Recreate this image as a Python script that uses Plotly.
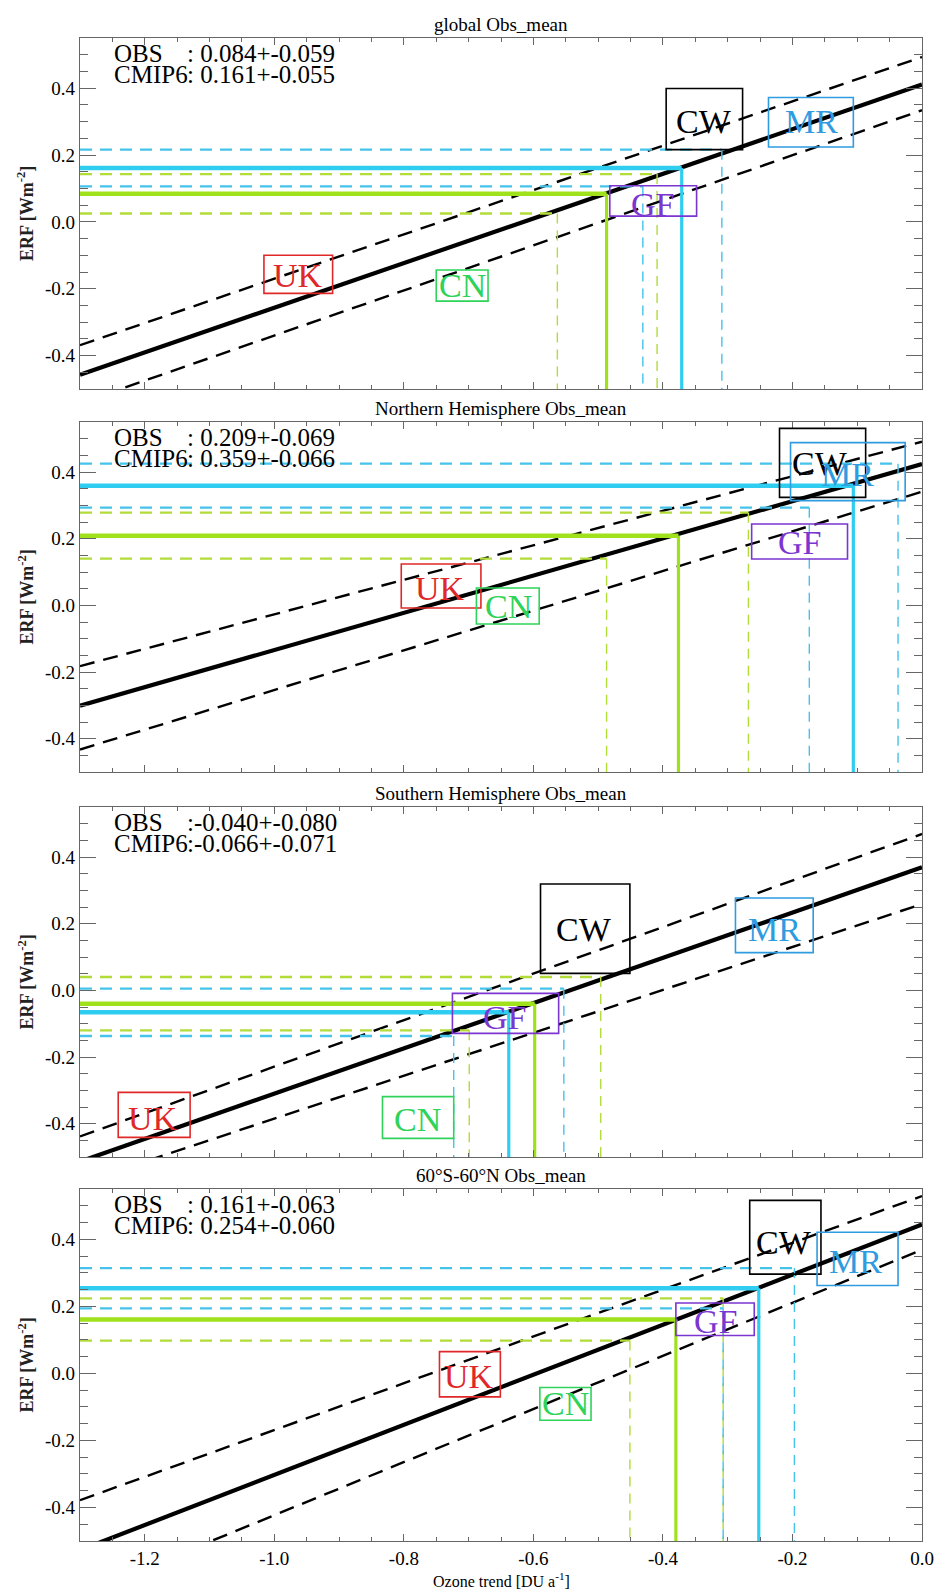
import plotly.graph_objects as go
from plotly.subplots import make_subplots

# ---------------- data ----------------
panel_titles = ["global Obs_mean", "Northern Hemisphere Obs_mean",
                "Southern Hemisphere Obs_mean", "60\u00b0S-60\u00b0N Obs_mean"]

# regression of ERF on ozone trend (ERF = icpt + slope * trend) and its band
fit_slope = [0.668, 0.558, 0.679, 0.747]
fit_icpt = [0.411, 0.424, 0.369, 0.444]
upper_slope = [0.663, 0.518, 0.698, 0.698]
upper_icpt = [0.493, 0.491, 0.469, 0.529]
lower_slope = [0.674, 0.595, 0.644, 0.792]
lower_icpt = [0.334, 0.341, 0.259, 0.369]

# constrained ERF (mean, sd)
obs_erf = [0.084, 0.209, -0.040, 0.161]
obs_erf_sd = [0.059, 0.069, 0.080, 0.063]
cmip_erf = [0.161, 0.359, -0.066, 0.254]
cmip_erf_sd = [0.055, 0.066, 0.071, 0.060]

# ozone trend (mean, low, high)
obs_trend = [-0.487, -0.376, -0.598, -0.380]
obs_trend_lo = [-0.563, -0.487, -0.699, -0.451]
obs_trend_hi = [-0.409, -0.268, -0.496, -0.307]
cmip_trend = [-0.371, -0.106, -0.638, -0.252]
cmip_trend_lo = [-0.431, -0.174, -0.723, -0.307]
cmip_trend_hi = [-0.309, -0.037, -0.553, -0.197]

models = ["CW", "MR", "GF", "UK", "CN"]
model_colors = ["#000000", "#2f9be0", "#7b35d0", "#e02828", "#2fd35a"]

# label centres per panel (trend, ERF)
label_x = [[-0.337, -0.171, -0.416, -0.964, -0.710],
           [-0.157, -0.115, -0.189, -0.744, -0.639],
           [-0.522, -0.228, -0.644, -1.187, -0.779],
           [-0.213, -0.102, -0.319, -0.699, -0.551]]
label_y = [[0.300, 0.300, 0.053, -0.159, -0.191],
           [0.424, 0.391, 0.189, 0.052, -0.003],
           [0.183, 0.183, -0.082, -0.383, -0.386],
           [0.389, 0.334, 0.155, -0.010, -0.090]]
# model boxes per panel
box_x0 = [[-0.395, -0.237, -0.482, -1.016, -0.750],
          [-0.220, -0.203, -0.263, -0.804, -0.688],
          [-0.589, -0.288, -0.725, -1.241, -0.833],
          [-0.266, -0.162, -0.380, -0.745, -0.590]]
box_x1 = [[-0.277, -0.106, -0.348, -0.910, -0.670],
          [-0.087, -0.026, -0.115, -0.681, -0.591],
          [-0.451, -0.168, -0.561, -1.130, -0.723],
          [-0.156, -0.037, -0.259, -0.651, -0.511]]
box_y0 = [[0.216, 0.224, 0.017, -0.214, -0.237],
          [0.324, 0.314, 0.139, -0.008, -0.056],
          [0.051, 0.113, -0.129, -0.441, -0.444],
          [0.296, 0.262, 0.113, -0.070, -0.140]]
box_y1 = [[0.399, 0.372, 0.108, -0.100, -0.144],
          [0.531, 0.488, 0.244, 0.124, 0.052],
          [0.319, 0.277, -0.009, -0.306, -0.319],
          [0.516, 0.421, 0.210, 0.065, -0.042]]

x_range = [-1.3, 0.0]
y_range = [-0.5, 0.55]
x_tickvals = [-1.2, -1.0, -0.8, -0.6, -0.4, -0.2, 0.0]
x_ticktext = ["-1.2", "-1.0", "-0.8", "-0.6", "-0.4", "-0.2", "0.0"]
y_tickvals = [-0.4, -0.2, 0.0, 0.2, 0.4]
y_ticktext = ["-0.4", "-0.2", "0.0", "0.2", "0.4"]

GREEN = "#9fe21c"
GREEN_D = "#b2dc38"
CYAN = "#2fcdf0"
CYAN_D = "#45c3ea"
SERIF = "Liberation Serif"

# ---------------- figure ----------------
fig = make_subplots(rows=4, cols=1)
W, H = 946, 1592
L, R, T, B = 80, 15, 38, 51
panel_px = [(38, 389), (422, 772), (807, 1157), (1189, 1541)]
ph = H - T - B


def line(row, x, y, color, width, dash="solid"):
    fig.add_trace(go.Scatter(x=x, y=y, mode="lines",
                             line=dict(color=color, width=width, dash=dash),
                             showlegend=False, hoverinfo="skip"), row=row, col=1)


for i in range(4):
    row = i + 1
    xs = [x_range[0], x_range[1]]
    # black regression and band
    for sl, ic, w, dash in [(upper_slope[i], upper_icpt[i], 2.4, "15px,9px"),
                            (lower_slope[i], lower_icpt[i], 2.4, "15px,9px"),
                            (fit_slope[i], fit_icpt[i], 4.2, "solid")]:
        line(row, xs, [ic + sl * x for x in xs], "black", w, dash)
    # dashed uncertainty L-lines
    for yv, xv, col in [(obs_erf[i] - obs_erf_sd[i], obs_trend_lo[i], GREEN_D),
                        (obs_erf[i] + obs_erf_sd[i], obs_trend_hi[i], GREEN_D),
                        (cmip_erf[i] - cmip_erf_sd[i], cmip_trend_lo[i], CYAN_D),
                        (cmip_erf[i] + cmip_erf_sd[i], cmip_trend_hi[i], CYAN_D)]:
        line(row, [x_range[0], xv], [yv, yv], col, 2.3, "12px,8px")
        line(row, [xv, xv], [yv, y_range[0]], col, 1.4, "10px,7px")
    # solid L-lines
    for yv, xv, col in [(obs_erf[i], obs_trend[i], GREEN), (cmip_erf[i], cmip_trend[i], CYAN)]:
        line(row, [x_range[0], xv], [yv, yv], col, 4.5)
        line(row, [xv, xv], [yv, y_range[0]], col, 3.2)

    xa = "x" if i == 0 else f"x{row}"
    ya = "y" if i == 0 else f"y{row}"
    # model boxes and labels
    for j, m in enumerate(models):
        fig.add_shape(type="rect", xref=xa, yref=ya,
                      x0=box_x0[i][j], x1=box_x1[i][j], y0=box_y0[i][j], y1=box_y1[i][j],
                      line=dict(color=model_colors[j], width=1.6), layer="above")
        fig.add_annotation(xref=xa, yref=ya, x=label_x[i][j], y=label_y[i][j], text=m,
                           showarrow=False, xanchor="center", yanchor="middle",
                           font=dict(family=SERIF, size=34, color=model_colors[j]))
    # stats text
    obs_txt = ":" + f"{obs_erf[i]:6.3f}".replace(" ", "\u00a0") + "+-" + f"{obs_erf_sd[i]:.3f}"
    cm_txt = ":" + f"{cmip_erf[i]:6.3f}".replace(" ", "\u00a0") + "+-" + f"{cmip_erf_sd[i]:.3f}"
    for yy, lab, val in [(0.955, "OBS", obs_txt), (0.895, "CMIP6", cm_txt)]:
        fig.add_annotation(xref=f"{xa} domain", yref=f"{ya} domain", x=32 / 851, y=yy,
                           text=lab, showarrow=False, xanchor="left", yanchor="middle",
                           font=dict(family=SERIF, size=25, color="black"))
        fig.add_annotation(xref=f"{xa} domain", yref=f"{ya} domain", x=106 / 851, y=yy,
                           text=val, showarrow=False, xanchor="left", yanchor="middle",
                           font=dict(family=SERIF, size=25, color="black"))
    # panel title
    fig.add_annotation(xref=f"{xa} domain", yref=f"{ya} domain", x=0.5, y=1.0,
                       text=panel_titles[i], showarrow=False, xanchor="center",
                       yanchor="bottom", yshift=1,
                       font=dict(family=SERIF, size=19, color="black"))
    # y title
    fig.add_annotation(xref=f"{xa} domain", yref=f"{ya} domain", x=-55 / 851, y=0.5,
                       text="<b>ERF [Wm<sup>-2</sup>]</b>", showarrow=False, textangle=-90,
                       xanchor="center", yanchor="middle",
                       font=dict(family=SERIF, size=18, color="#222222"))

    top, bot = panel_px[i]
    dom = [(H - B - bot) / ph, (H - B - top) / ph]
    axis_common = dict(showline=True, linecolor="#666666", linewidth=1.3, mirror="ticks",
                       ticks="inside", tickcolor="#666666", showgrid=False, zeroline=False)
    fig.update_xaxes(range=x_range, tickvals=x_tickvals, ticktext=x_ticktext,
                     ticklen=7, tickwidth=1.2,
                     minor=dict(ticks="inside", dtick=0.05, tick0=0, ticklen=4,
                                tickcolor="#666666", tickwidth=1, showgrid=False),
                     showticklabels=(i == 3),
                     tickfont=dict(family=SERIF, size=19, color="black"),
                     row=row, col=1, **axis_common)
    fig.update_yaxes(range=y_range, tickvals=y_tickvals, ticktext=y_ticktext,
                     ticklen=16, tickwidth=1.2, domain=dom,
                     minor=dict(ticks="inside", dtick=0.05, tick0=0, ticklen=8,
                                tickcolor="#666666", tickwidth=1, showgrid=False),
                     tickfont=dict(family=SERIF, size=19, color="black"),
                     row=row, col=1, **axis_common)

fig.add_annotation(xref="paper", yref="paper", x=0.5, y=(-(1580 - (H - B))) / ph,
                   text="Ozone trend [DU a<sup>-1</sup>]", showarrow=False,
                   xanchor="center", yanchor="middle",
                   font=dict(family=SERIF, size=16, color="black"))

fig.update_layout(width=W, height=H, autosize=False,
                  margin=dict(l=L, r=R, t=T, b=B),
                  paper_bgcolor="white", plot_bgcolor="white", showlegend=False)

fig.write_html("out.html")
